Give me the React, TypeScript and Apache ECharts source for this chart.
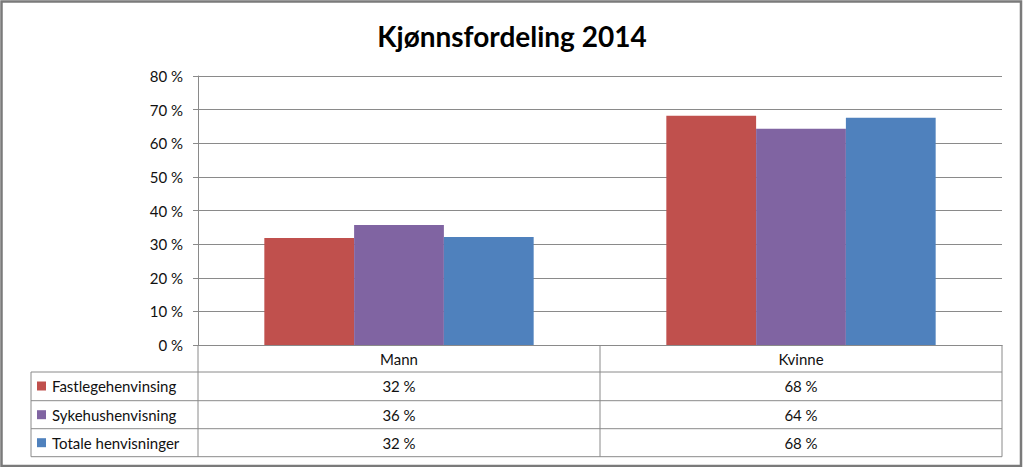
import React, { useEffect, useRef } from "react";
import * as echarts from "echarts";

const categories = ["Mann", "Kvinne"];
const seriesNames = ["Fastlegehenvinsing", "Sykehushenvisning", "Totale henvisninger"];
const fastlege = [0.318, 0.682];
const sykehus = [0.357, 0.643];
const totale = [0.321, 0.676];
const seriesColors = ["#C0504D", "#8064A2", "#4F81BD"];
const yTicks = [0, 0.1, 0.2, 0.3, 0.4, 0.5, 0.6, 0.7, 0.8];

const W = 1024;
const H = 467;
const FONT = "Lato, 'Open Sans', sans-serif";
const GRID_L = 198;
const GRID_R = 1002;
const GRID_T = 76;
const GRID_B = 345;
const LINE = "#8a8a8a";
const FS = 15;

const pct = (v: number) => `${Math.round(v * 100)} %`;

export default function App() {
  const ref = useRef<HTMLDivElement>(null);
  useEffect(() => {
    if (!ref.current) return;
    const chart = echarts.init(ref.current, undefined, { renderer: "svg" });
    const allSeries = [fastlege, sykehus, totale];

    const rowTops = [372, 400.7, 428.7];
    const rowH = 28;
    const tableLeft = 31;
    const catW = (GRID_R - GRID_L) / categories.length;
    const graphics: any[] = [];

    // outer chart border
    graphics.push({
      type: "rect",
      shape: { x: 1.5, y: 1.5, width: 1019.5, height: 464.5 },
      style: { fill: "none", stroke: "#7a7a7a", lineWidth: 2.5 },
      silent: true,
    });
    // table horizontal lines
    [...rowTops, rowTops[2] + rowH].forEach((y) => {
      graphics.push({
        type: "line",
        shape: { x1: tableLeft, y1: y, x2: GRID_R, y2: y },
        style: { stroke: LINE, lineWidth: 1 },
        silent: true,
      });
    });
    // vertical lines
    graphics.push({
      type: "line",
      shape: { x1: tableLeft, y1: rowTops[0], x2: tableLeft, y2: rowTops[2] + rowH },
      style: { stroke: LINE, lineWidth: 1 },
      silent: true,
    });
    for (let i = 0; i <= categories.length; i++) {
      const x = GRID_L + i * catW;
      graphics.push({
        type: "line",
        shape: { x1: x, y1: GRID_B, x2: x, y2: rowTops[2] + rowH },
        style: { stroke: LINE, lineWidth: 1 },
        silent: true,
      });
    }
    // legend keys + names
    seriesNames.forEach((name, r) => {
      const cy = rowTops[r] + rowH / 2;
      graphics.push({
        type: "rect",
        shape: { x: 37, y: cy - 4.5, width: 9, height: 9 },
        style: { fill: seriesColors[r] },
        silent: true,
      });
      graphics.push({
        type: "text",
        x: 52,
        y: cy,
        style: {
          text: name,
          font: `${FS}px ${FONT}`,
          fill: "#111",
          textVerticalAlign: "middle",
          textAlign: "left",
        },
        silent: true,
      });
      allSeries[r].forEach((v, c) => {
        graphics.push({
          type: "text",
          x: GRID_L + catW * (c + 0.5),
          y: cy,
          style: {
            text: pct(v),
            font: `${FS}px ${FONT}`,
            fill: "#111",
            textVerticalAlign: "middle",
            textAlign: "center",
          },
          silent: true,
        });
      });
    });

    chart.setOption({
      animation: false,
      backgroundColor: "#fff",
      title: {
        text: "Kjønnsfordeling 2014",
        left: "center",
        top: 17,
        textStyle: { fontFamily: FONT, fontSize: 28, fontWeight: "bold", color: "#000" },
      },
      grid: { left: GRID_L, right: W - GRID_R, top: GRID_T, bottom: H - GRID_B },
      xAxis: {
        type: "category",
        data: categories,
        axisLine: { show: true, lineStyle: { color: LINE, width: 1 } },
        axisTick: { show: false },
        axisLabel: { fontFamily: FONT, fontSize: FS, color: "#111", margin: 6 },
      },
      yAxis: {
        type: "value",
        min: yTicks[0],
        max: yTicks[yTicks.length - 1],
        interval: 0.1,
        axisLine: { show: true, lineStyle: { color: LINE, width: 1 } },
        axisTick: { show: true, length: 5, lineStyle: { color: LINE } },
        splitLine: { show: true, lineStyle: { color: LINE, width: 1 } },
        axisLabel: {
          fontFamily: FONT,
          fontSize: FS,
          color: "#111",
          margin: 15,
          formatter: (v: number) => pct(v),
        },
      },
      series: seriesNames.map((name, i) => ({
        name,
        type: "bar",
        data: allSeries[i],
        itemStyle: { color: seriesColors[i] },
        barGap: "0%",
        barCategoryGap: "33%",
      })),
      graphic: graphics,
    });
    return () => chart.dispose();
  }, []);
  return (
    <div
      ref={ref}
      style={{ position: "fixed", left: 0, top: 0, width: W, height: H, background: "#fff" }}
    />
  );
}
